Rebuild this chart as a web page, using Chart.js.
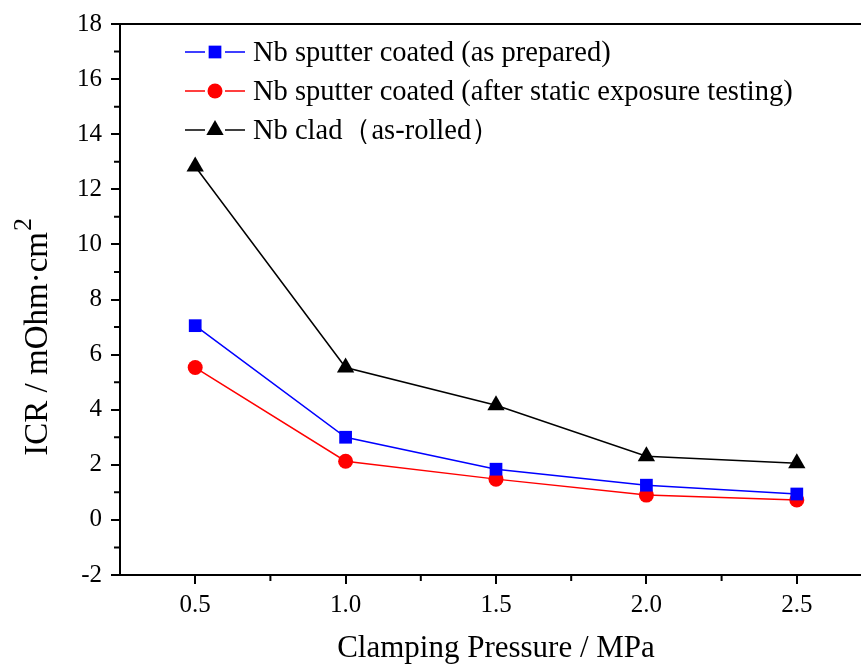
<!DOCTYPE html>
<html>
<head>
<meta charset="utf-8">
<script src="https://cdn.jsdelivr.net/npm/chart.js@4.4.0/dist/chart.umd.min.js"></script>
<style>
html,body{margin:0;padding:0;background:#fff;overflow:hidden;}
#wrap{width:900px;height:667px;}
</style>
</head>
<body>
<div id="wrap"><canvas id="c" width="900" height="667"></canvas></div>
<script>
const pressures = [0.5, 1.0, 1.5, 2.0, 2.5];
const sputterPrepared = [7.05, 3.0, 1.84, 1.26, 0.94];
const sputterAfter = [5.53, 2.13, 1.48, 0.90, 0.72];
const cladRolled = [12.83, 5.53, 4.16, 2.31, 2.06];
const xTickValues = [0.5, 1.0, 1.5, 2.0, 2.5];
const xMinorValues = [0.75, 1.25, 1.75, 2.25, 2.75];
const yMinorValues = [-1, 1, 3, 5, 7, 9, 11, 13, 15, 17];
const seriesLabels = [
  'Nb sputter coated (as prepared)',
  'Nb sputter coated (after static exposure testing)',
  'Nb clad\uFF08as-rolled\uFF09'
];
const yTitleMain = 'ICR / mOhm\u00B7cm';
const yTitleSup = '2';

const FONT = "'Liberation Serif', 'Times New Roman', serif";

function pts(arr){ return pressures.map((x,i)=>({x:x,y:arr[i]})); }

const axisPlugin = {
  id: 'axisExtras',
  afterDraw(chart){
    const ctx = chart.ctx, a = chart.chartArea;
    const xs = chart.scales.x, ys = chart.scales.y;
    ctx.save();
    ctx.strokeStyle = '#000';
    ctx.lineWidth = 2;
    // top border
    ctx.beginPath();
    ctx.moveTo(a.left-1, a.top);
    ctx.lineTo(a.right+5, a.top);
    ctx.stroke();
    // minor ticks
    ctx.beginPath();
    xMinorValues.forEach(v=>{
      const px = xs.getPixelForValue(v);
      ctx.moveTo(px, a.bottom); ctx.lineTo(px, a.bottom+6);
    });
    yMinorValues.forEach(v=>{
      const py = ys.getPixelForValue(v);
      ctx.moveTo(a.left, py); ctx.lineTo(a.left-6, py);
    });
    ctx.stroke();
    // y title with superscript
    ctx.save();
    ctx.translate(47, 0);
    ctx.rotate(-Math.PI/2);
    ctx.fillStyle = '#000';
    ctx.textBaseline = 'alphabetic';
    ctx.font = "33px " + FONT;
    const w = ctx.measureText(yTitleMain).width;
    const endY = 232;
    ctx.textAlign = 'left';
    ctx.fillText(yTitleMain, -(endY + w), 0);
    ctx.font = "26px " + FONT;
    ctx.fillText(yTitleSup, -endY + 1, -16);
    ctx.restore();
    // legend
    const ds = chart.data.datasets;
    const rowsY = [52, 91, 130];
    ctx.font = "28.5px " + FONT;
    ctx.textBaseline = 'middle';
    ctx.textAlign = 'left';
    ds.forEach((d,i)=>{
      const y = rowsY[i];
      ctx.strokeStyle = d.borderColor;
      ctx.lineWidth = 1.5;
      ctx.beginPath();
      ctx.moveTo(185, y); ctx.lineTo(205, y);
      ctx.moveTo(225, y); ctx.lineTo(245, y);
      ctx.stroke();
      ctx.fillStyle = d.pointBackgroundColor;
      ctx.strokeStyle = d.pointBorderColor;
      Chart.helpers.drawPoint(ctx, {pointStyle: d.pointStyle, radius: d.pointRadius, borderWidth: 0, rotation: 0}, 215, y);
      ctx.fillStyle = '#000';
      ctx.fillText(d.label, 253, y+2);
    });
    ctx.restore();
  }
};

new Chart(document.getElementById('c'), {
  type: 'scatter',
  data: {
    datasets: [
      {label: seriesLabels[0], data: pts(sputterPrepared), showLine: true, borderColor: '#0000ff', borderWidth: 1.5,
       pointStyle: 'rect', pointRadius: 9, pointBackgroundColor: '#0000ff', pointBorderColor: '#0000ff', pointBorderWidth: 0},
      {label: seriesLabels[1], data: pts(sputterAfter), showLine: true, borderColor: '#ff0000', borderWidth: 1.5,
       pointStyle: 'circle', pointRadius: 7.5, pointBackgroundColor: '#ff0000', pointBorderColor: '#ff0000', pointBorderWidth: 0},
      {label: seriesLabels[2], data: pts(cladRolled), showLine: true, borderColor: '#000000', borderWidth: 1.5,
       pointStyle: 'triangle', pointRadius: 10, pointBackgroundColor: '#000000', pointBorderColor: '#000000', pointBorderWidth: 0}
    ]
  },
  options: {
    responsive: false,
    animation: false,
    devicePixelRatio: 1,
    layout: {padding: {top: 22, right: 28, left: 0, bottom: 0}},
    plugins: {legend: {display: false}, tooltip: {enabled: false}},
    scales: {
      x: {
        type: 'linear', min: 0.25, max: 2.75,
        afterBuildTicks(s){ s.ticks = xTickValues.map(v=>({value:v})); },
        afterFit(s){ s.height = 667 - 575; },
        ticks: {color: '#000', font: {family: FONT, size: 25}, padding: 6,
                callback: v => v.toFixed(1)},
        grid: {display: true, drawOnChartArea: false, drawTicks: true, tickLength: 9, color: '#000', lineWidth: 2},
        border: {display: true, color: '#000', width: 2},
        title: {display: true, text: 'Clamping Pressure / MPa', color: '#000', font: {family: FONT, size: 31}, padding: {top: 4, bottom: 0}}
      },
      y: {
        type: 'linear', min: -2, max: 18,
        afterFit(s){ s.width = 120; },
        ticks: {stepSize: 2, color: '#000', font: {family: FONT, size: 25}, padding: 9},
        grid: {display: true, drawOnChartArea: false, drawTicks: true, tickLength: 9, color: '#000', lineWidth: 2},
        border: {display: true, color: '#000', width: 2},
        title: {display: false}
      }
    }
  },
  plugins: [axisPlugin]
});
</script>
</body>
</html>
